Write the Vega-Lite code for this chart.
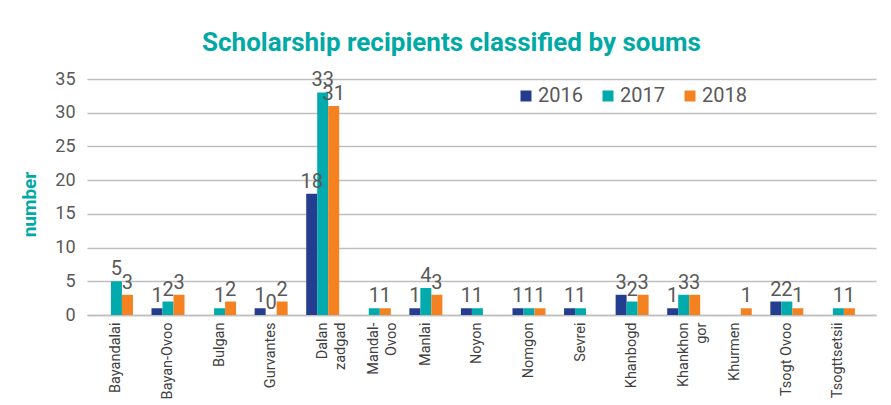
{
  "$schema": "https://vega.github.io/schema/vega-lite/v6.json",
  "width": 789,
  "height": 236,
  "autosize": {"type": "none"},
  "padding": {"left": 87, "top": 79, "right": 15, "bottom": 90},
  "background": "white",
  "title": {
    "text": "Scholarship recipients classified by soums",
    "font": "Roboto",
    "fontSize": 26,
    "fontWeight": "bold",
    "color": "#00A9A5",
    "offset": 14,
    "dx": -30
  },
  "data": {
    "values": [
      {"soum": "Bayandalai", "year": "2017", "value": 5},
      {"soum": "Bayandalai", "year": "2018", "value": 3},
      {"soum": "Bayan-Ovoo", "year": "2016", "value": 1},
      {"soum": "Bayan-Ovoo", "year": "2017", "value": 2},
      {"soum": "Bayan-Ovoo", "year": "2018", "value": 3},
      {"soum": "Bulgan", "year": "2017", "value": 1},
      {"soum": "Bulgan", "year": "2018", "value": 2},
      {"soum": "Gurvantes", "year": "2016", "value": 1},
      {"soum": "Gurvantes", "year": "2017", "value": 0},
      {"soum": "Gurvantes", "year": "2018", "value": 2},
      {"soum": "Dalan zadgad", "year": "2016", "value": 18},
      {"soum": "Dalan zadgad", "year": "2017", "value": 33},
      {"soum": "Dalan zadgad", "year": "2018", "value": 31},
      {"soum": "Mandal-Ovoo", "year": "2017", "value": 1},
      {"soum": "Mandal-Ovoo", "year": "2018", "value": 1},
      {"soum": "Manlai", "year": "2016", "value": 1},
      {"soum": "Manlai", "year": "2017", "value": 4},
      {"soum": "Manlai", "year": "2018", "value": 3},
      {"soum": "Noyon", "year": "2016", "value": 1},
      {"soum": "Noyon", "year": "2017", "value": 1},
      {"soum": "Nomgon", "year": "2016", "value": 1},
      {"soum": "Nomgon", "year": "2017", "value": 1},
      {"soum": "Nomgon", "year": "2018", "value": 1},
      {"soum": "Sevrei", "year": "2016", "value": 1},
      {"soum": "Sevrei", "year": "2017", "value": 1},
      {"soum": "Khanbogd", "year": "2016", "value": 3},
      {"soum": "Khanbogd", "year": "2017", "value": 2},
      {"soum": "Khanbogd", "year": "2018", "value": 3},
      {"soum": "Khankhongor", "year": "2016", "value": 1},
      {"soum": "Khankhongor", "year": "2017", "value": 3},
      {"soum": "Khankhongor", "year": "2018", "value": 3},
      {"soum": "Khurmen", "year": "2018", "value": 1},
      {"soum": "Tsogt Ovoo", "year": "2016", "value": 2},
      {"soum": "Tsogt Ovoo", "year": "2017", "value": 2},
      {"soum": "Tsogt Ovoo", "year": "2018", "value": 1},
      {"soum": "Tsogttsetsii", "year": "2017", "value": 1},
      {"soum": "Tsogttsetsii", "year": "2018", "value": 1}
    ]
  },
  "encoding": {
    "x": {
      "field": "soum",
      "type": "nominal",
      "sort": null,
      "scale": {"paddingInner": 0.36, "paddingOuter": 0.33, "align": 0.38},
      "axis": {
        "title": null,
        "labelAngle": -90,
        "labelAlign": "right",
        "labelBaseline": "middle",
        "labelPadding": 7,
        "labelFont": "Roboto",
        "labelFontSize": 14.5,
        "labelColor": "#404040",
        "labelLineHeight": 18,
        "labelExpr": "datum.label == 'Dalan zadgad' ? ['Dalan', 'zadgad'] : datum.label == 'Mandal-Ovoo' ? ['Mandal-', 'Ovoo'] : datum.label == 'Khankhongor' ? ['Khankhon', 'gor'] : datum.label",
        "ticks": false,
        "domain": true,
        "domainColor": "#bfbfbf",
        "domainWidth": 1.5
      }
    },
    "xOffset": {"field": "year", "type": "nominal", "sort": ["2016", "2017", "2018"]},
    "y": {
      "field": "value",
      "type": "quantitative",
      "scale": {"domain": [0, 35]},
      "axis": {
        "title": "number",
        "titleFont": "Roboto",
        "titleFontSize": 19,
        "titleFontWeight": "bold",
        "titleColor": "#00A9A5",
        "titleX": -48,
        "titleY": 125,
        "values": [0, 5, 10, 15, 20, 25, 30, 35],
        "labelFont": "Roboto",
        "labelFontSize": 18,
        "labelColor": "#595959",
        "labelPadding": 12,
        "ticks": false,
        "domain": false,
        "grid": true,
        "gridColor": "#bfbfbf",
        "gridWidth": 1.5
      }
    }
  },
  "layer": [
    {
      "mark": {"type": "bar"},
      "encoding": {
        "color": {
          "field": "year",
          "type": "nominal",
          "scale": {"domain": ["2016", "2017", "2018"], "range": ["#253D8F", "#00AAAD", "#F58220"]},
          "legend": {
            "title": null,
            "orient": "none",
            "legendX": 429,
            "legendY": 7,
            "direction": "horizontal",
            "symbolType": "square",
            "symbolSize": 121,
            "symbolStrokeWidth": 0,
            "labelFont": "Roboto",
            "labelFontSize": 20,
            "labelColor": "#595959",
            "labelOffset": 2,
            "columnPadding": 15
          }
        }
      }
    },
    {
      "mark": {"type": "text", "font": "Roboto", "fontSize": 20, "color": "#595959", "baseline": "alphabetic", "dy": -6},
      "encoding": {
        "text": {"field": "value", "type": "quantitative"}
      }
    }
  ],
  "config": {
    "view": {"stroke": null}
  }
}
